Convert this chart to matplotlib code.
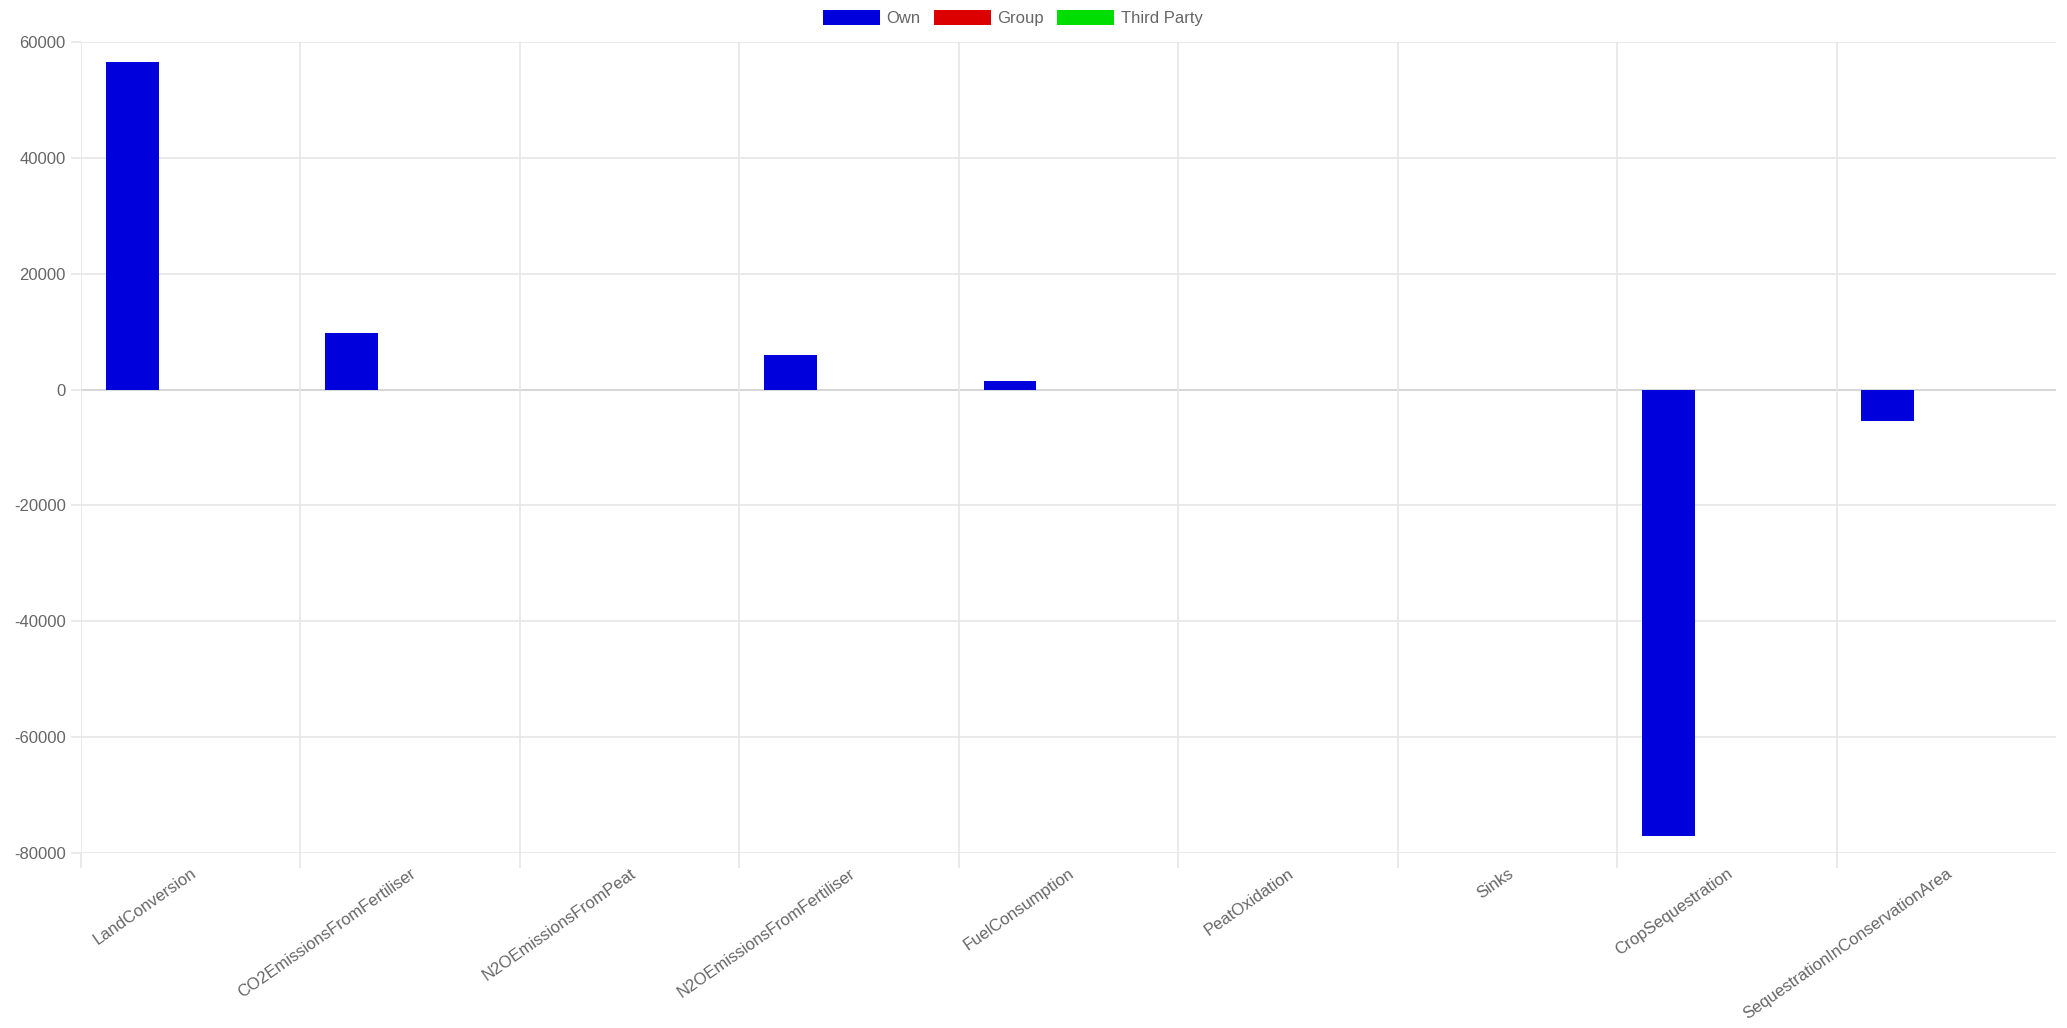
import matplotlib.pyplot as plt
from matplotlib.patches import Patch
import numpy as np

# categories and values
categories = ['LandConversion', 'CO2EmissionsFromFertiliser', 'N2OEmissionsFromPeat',
              'N2OEmissionsFromFertiliser', 'FuelConsumption', 'PeatOxidation',
              'Sinks', 'CropSequestration', 'SequestrationInConservationArea']
own = [56500, 9800, 0, 5900, 1400, 0, 0, -77100, -5500]
group = [0, 0, 0, 0, 0, 0, 0, 0, 0]
third_party = [0, 0, 0, 0, 0, 0, 0, 0, 0]
series_names = ['Own', 'Group', 'Third Party']
colors = ['#0000dd', '#dd0000', '#00dd00']
y_ticks = [-80000, -60000, -40000, -20000, 0, 20000, 40000, 60000]

W, H = 2067, 1028
fig = plt.figure(figsize=(W / 100, H / 100), dpi=100)
ax = fig.add_axes([81 / W, 1 - 853 / H, (2056 - 81) / W, (853 - 42) / H])

plt.rcParams['font.family'] = ['Liberation Sans', 'DejaVu Sans']
grid_c = '#e6e6e6'
text_c = '#666666'

x = np.arange(len(categories))
cat_w = 0.8 / 3
bar_w = cat_w * 0.9
for i, (vals, c) in enumerate(zip([own, group, third_party], colors)):
    ax.bar(x + (i - 1) * cat_w, vals, width=bar_w, color=c, linewidth=0, zorder=2)

ax.set_xlim(-0.5, len(categories) - 0.5)
ax.set_ylim(-80000, 60000)

# horizontal gridlines
ax.set_yticks(y_ticks)
ax.set_yticklabels([str(v) for v in y_ticks], family='Liberation Sans')
for v in y_ticks:
    ax.axhline(v, color='#cfcfcf' if v == 0 else grid_c, lw=1.2, zorder=0)

# vertical gridlines at category boundaries
bounds = np.arange(len(categories)) - 0.5
ax.set_xticks(bounds, minor=True)
for b in bounds:
    ax.axvline(b, color=grid_c, lw=1.2, zorder=0)
ax.set_xticks(x)
ax.set_xticklabels(categories, rotation=35, ha='right', va='top',
                   rotation_mode='anchor', family='Liberation Sans')

ax.tick_params(axis='y', colors=grid_c, labelcolor=text_c, labelsize=12,
               length=7, width=1.2, pad=4)
ax.tick_params(axis='x', which='major', length=0, labelcolor=text_c,
               labelsize=12, pad=9)
ax.tick_params(axis='x', which='minor', colors=grid_c, length=11, width=1.2)
for s in ax.spines.values():
    s.set_visible(False)

handles = [Patch(facecolor=c, label=n) for c, n in zip(colors, series_names)]
fig.legend(handles=handles, loc='center', bbox_to_anchor=(1013 / W, 1 - 18 / H),
           ncol=3, frameon=False, labelcolor=text_c,
           handlelength=3.4, handleheight=1.05, handletextpad=0.4,
           columnspacing=0.8, borderpad=0, prop={'family': 'Liberation Sans', 'size': 12})

fig.savefig('out.png', dpi=100, facecolor='white')
